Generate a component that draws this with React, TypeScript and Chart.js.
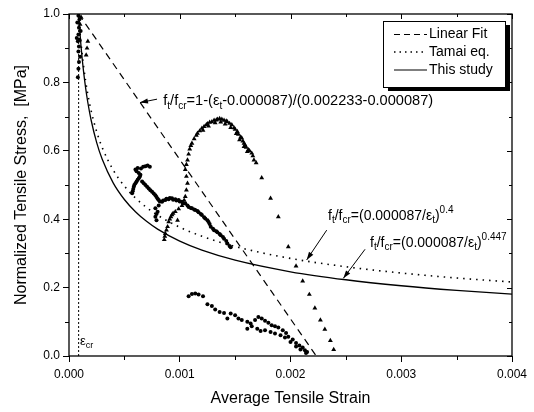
import { useEffect, useRef } from "react";
import { Chart, registerables } from "chart.js";

Chart.register(...registerables);

const FONT = '"Liberation Sans", Arial, Helvetica, sans-serif';

// ---------- measured data (strain, normalized stress) ----------
const peakStrain = [0.000085, 0.000095, 0.000075, 0.00009, 0.000085, 0.00008, 0.00009, 0.000085, 0.0001, 0.00009, 0.000085, 0.00008, 0.000095, 0.000105, 0.00007];
const peakStress = [0.995, 0.985, 0.975, 0.96, 0.94, 0.92, 0.905, 0.89, 0.875, 0.86, 0.84, 0.815, 0.925, 0.95, 0.93];

const peakTriStrain = [0.00017, 0.000163, 0.000155, 0.00011, 0.0001];
const peakTriStress = [0.92, 0.9, 0.88, 0.99, 0.97];

const crossStrain = [
  0.00057, 0.000575, 0.00058, 0.000585, 0.00059, 0.0006, 0.00061, 0.00062, 0.00063, 0.00064, 0.000645, 0.00063, 0.00061, 0.0006, 0.00062, 0.00065, 0.00067, 0.00069, 0.00071, 0.00073,
  0.00066, 0.000675, 0.00069, 0.000705, 0.00072, 0.000735, 0.00075, 0.000765, 0.00078, 0.00079, 0.0008, 0.00081, 0.00082,
  0.00084, 0.00085, 0.00087, 0.00088, 0.0009, 0.00091, 0.00093, 0.00094, 0.00096, 0.00097, 0.00099, 0.001, 0.00102, 0.00103, 0.00105,
  0.00107, 0.00108, 0.0011, 0.00111, 0.00113, 0.00114, 0.00116, 0.00117, 0.00119, 0.0012, 0.00122, 0.00123, 0.00125, 0.00126, 0.00127, 0.00128, 0.0013, 0.00131, 0.00133, 0.00134, 0.00136, 0.00137, 0.00139, 0.0014, 0.00142, 0.00143, 0.00145, 0.00146,
  0.00078, 0.0008, 0.00079, 0.00078, 0.00079, 0.00081
];
const crossStress = [
  0.476, 0.482, 0.488, 0.495, 0.5, 0.505, 0.51, 0.515, 0.52, 0.525, 0.53, 0.535, 0.54, 0.545, 0.55, 0.548, 0.553, 0.555, 0.557, 0.553,
  0.51, 0.505, 0.5, 0.495, 0.49, 0.485, 0.48, 0.475, 0.47, 0.465, 0.46, 0.456, 0.452,
  0.451, 0.455, 0.456, 0.46, 0.458, 0.462, 0.461, 0.457, 0.458, 0.455, 0.456, 0.452, 0.451, 0.447, 0.446,
  0.44, 0.436, 0.433, 0.432, 0.428, 0.427, 0.424, 0.42, 0.415, 0.412, 0.406, 0.402, 0.397, 0.392, 0.386, 0.378, 0.372, 0.368, 0.365, 0.362, 0.357, 0.353, 0.348, 0.343, 0.336, 0.329, 0.322, 0.318,
  0.432, 0.422, 0.415, 0.407, 0.397, 0.44
];

const lowStrain = [
  0.00108, 0.00111, 0.00114, 0.00117, 0.00121, 0.00125, 0.00129, 0.00132, 0.00136, 0.0014, 0.00143, 0.00146, 0.0015, 0.00153, 0.00156, 0.00161, 0.00164, 0.00168, 0.00171, 0.00174, 0.00177, 0.0018, 0.00183, 0.00186, 0.00189, 0.00193, 0.00196, 0.00198, 0.00202, 0.00205, 0.00208, 0.00211, 0.00213, 0.00215,
  0.0017, 0.00173, 0.00177, 0.00182, 0.00186, 0.00191, 0.00195, 0.002, 0.00205, 0.00209, 0.00214, 0.00161, 0.00165
];
const lowStress = [
  0.175, 0.181, 0.183, 0.18, 0.175, 0.151, 0.146, 0.136, 0.129, 0.126, 0.11, 0.124, 0.119, 0.11, 0.105, 0.1, 0.095, 0.105, 0.114, 0.11, 0.103, 0.097, 0.09, 0.087, 0.083, 0.075, 0.067, 0.056, 0.048, 0.038, 0.031, 0.025, 0.017, 0.012,
  0.08, 0.073, 0.075, 0.07, 0.066, 0.061, 0.054, 0.041, 0.028, 0.019, 0.009, 0.08, 0.087
];

const archStrain = [
  0.00086, 0.000865, 0.00087, 0.00088, 0.00089, 0.0009, 0.00091, 0.00092, 0.00093, 0.00094, 0.00096, 0.00098, 0.00099, 0.00102, 0.00104, 0.00105, 0.00106, 0.00107, 0.00106, 0.00105, 0.00106, 0.00107, 0.00108, 0.00109, 0.0011, 0.00111, 0.00113, 0.00115, 0.00116, 0.00118, 0.0012, 0.00122, 0.00124, 0.00125, 0.00127, 0.00129, 0.00131, 0.00133, 0.00134, 0.00136, 0.00138, 0.0014, 0.00142, 0.00143, 0.00145, 0.00147, 0.00149, 0.0015, 0.00152, 0.00153, 0.00155, 0.00156, 0.00157, 0.00158, 0.00159, 0.0016, 0.00162, 0.00163, 0.00165, 0.00166, 0.00167, 0.00169,
  0.00121, 0.00126, 0.00132, 0.00137, 0.00141, 0.00146, 0.00151, 0.00154, 0.00158, 0.00161,
  0.00174, 0.00182, 0.00189, 0.00198, 0.00205, 0.00211, 0.00217, 0.00222, 0.00227, 0.00231, 0.00236, 0.00239
];
const archStress = [
  0.34, 0.35, 0.358, 0.368, 0.378, 0.392, 0.4, 0.407, 0.413, 0.417, 0.422, 0.397, 0.43, 0.44, 0.455, 0.466, 0.485, 0.505, 0.525, 0.545, 0.56, 0.573, 0.59, 0.605, 0.615, 0.622, 0.635, 0.645, 0.651, 0.658, 0.666, 0.671, 0.676, 0.679, 0.683, 0.685, 0.689, 0.69, 0.692, 0.694, 0.692, 0.689, 0.687, 0.685, 0.68, 0.676, 0.667, 0.663, 0.656, 0.648, 0.64, 0.637, 0.628, 0.622, 0.617, 0.61, 0.603, 0.6, 0.593, 0.585, 0.573, 0.565,
  0.66, 0.672, 0.682, 0.684, 0.678, 0.668, 0.65, 0.632, 0.612, 0.598,
  0.521, 0.461, 0.407, 0.319, 0.263, 0.219, 0.18, 0.14, 0.105, 0.078, 0.045, 0.019
];

// fitted curves
const fitStrain = [0.000087, 0.002233];
const fitStress = [1.0, 0.0];

const curveStrain = [0.000087, 0.00009, 0.0001, 0.00011, 0.00012, 0.00013, 0.00015, 0.00017, 0.0002, 0.00025, 0.0003, 0.0004, 0.0005, 0.0006, 0.0007, 0.0008, 0.001, 0.0012, 0.0015, 0.002, 0.0025, 0.003, 0.0035, 0.004];
const tamaiStress = [1.0, 0.9865, 0.9458, 0.9104, 0.8793, 0.8516, 0.8042, 0.7649, 0.7168, 0.6556, 0.6095, 0.5432, 0.4968, 0.4619, 0.4343, 0.4117, 0.3765, 0.3501, 0.3202, 0.2854, 0.261, 0.2426, 0.2281, 0.2163];
const studyStress = [1.0, 0.985, 0.9397, 0.9004, 0.8661, 0.8357, 0.7839, 0.7412, 0.6893, 0.6239, 0.575, 0.5056, 0.4576, 0.4218, 0.3937, 0.3709, 0.3357, 0.3094, 0.2801, 0.2463, 0.2229, 0.2054, 0.1918, 0.1807];

const crStrain = [0.000087, 0.000087];
const crStress = [0.0, 1.0];

// axis ticks
const xMinorTicks = [0.0005, 0.0015, 0.0025, 0.0035];
const xMajorTicks = [0, 0.001, 0.002, 0.003, 0.004];
const yMinorTicks = [0.1, 0.3, 0.5, 0.7, 0.9];
const yMajorTicks = [0, 0.2, 0.4, 0.6, 0.8, 1.0];

const legendLabels = ["Linear Fit", "Tamai eq.", "This study"];

type Seg = { t: string; s?: "sub" | "sup" };

// annotation anchors in data units: [strain, stress]
const linearLabel: Seg[] = [
  { t: "f" }, { t: "t", s: "sub" }, { t: "/f" }, { t: "cr", s: "sub" }, { t: "=1-(ε" }, { t: "t", s: "sub" }, { t: "-0.000087)/(0.002233-0.000087)" },
];
const tamaiLabel: Seg[] = [
  { t: "f" }, { t: "t", s: "sub" }, { t: "/f" }, { t: "cr", s: "sub" }, { t: "=(0.000087/ε" }, { t: "t", s: "sub" }, { t: ")" }, { t: "0.4", s: "sup" },
];
const studyLabel: Seg[] = [
  { t: "f" }, { t: "t", s: "sub" }, { t: "/f" }, { t: "cr", s: "sub" }, { t: "=(0.000087/ε" }, { t: "t", s: "sub" }, { t: ")" }, { t: "0.447", s: "sup" },
];
const annotations = [
  { segs: linearLabel, size: 14.6, at: [0.000851, 0.734], from: [0.000795, 0.751], to: [0.000641, 0.741] },
  { segs: tamaiLabel, size: 14, at: [0.002339, 0.398], from: [0.002327, 0.368], to: [0.002146, 0.281] },
  { segs: studyLabel, size: 14, at: [0.002718, 0.3196], from: [0.002673, 0.312], to: [0.002477, 0.227] },
];
const crLabelAt = [0.0000993, 0.032];

function pts(xs: number[], ys: number[]) {
  return xs.map((x, i) => ({ x, y: ys[i] }));
}

function drawRich(ctx: CanvasRenderingContext2D, segs: Seg[], x: number, y: number, size: number) {
  let cx = x;
  ctx.textBaseline = "alphabetic";
  ctx.textAlign = "left";
  for (const seg of segs) {
    const fs = seg.s ? Math.round(size * 0.7) : size;
    ctx.font = `${fs}px ${FONT}`;
    const dy = seg.s === "sub" ? size * 0.25 : seg.s === "sup" ? -size * 0.5 : 0;
    ctx.fillText(seg.t, cx, y + dy);
    cx += ctx.measureText(seg.t).width;
  }
}

function arrow(ctx: CanvasRenderingContext2D, x1: number, y1: number, x2: number, y2: number) {
  ctx.beginPath();
  ctx.moveTo(x1, y1);
  ctx.lineTo(x2, y2);
  ctx.lineWidth = 1;
  ctx.strokeStyle = "#000";
  ctx.stroke();
  const a = Math.atan2(y2 - y1, x2 - x1);
  const L = 8, W = 2.6;
  ctx.beginPath();
  ctx.moveTo(x2, y2);
  ctx.lineTo(x2 - L * Math.cos(a) + W * Math.sin(a), y2 - L * Math.sin(a) - W * Math.cos(a));
  ctx.lineTo(x2 - L * Math.cos(a) - W * Math.sin(a), y2 - L * Math.sin(a) + W * Math.cos(a));
  ctx.closePath();
  ctx.fillStyle = "#000";
  ctx.fill();
}

const decorPlugin = {
  id: "decor",
  afterDatasetsDraw(chart: any) {
    const { ctx, chartArea: ca, scales } = chart;
    const xs = scales.x, ys = scales.y;
    ctx.save();
    // frame
    ctx.strokeStyle = "#000";
    ctx.lineWidth = 1.3;
    ctx.strokeRect(ca.left, ca.top, ca.right - ca.left, ca.bottom - ca.top);
    ctx.lineWidth = 1;
    ctx.beginPath();
    for (const v of xMinorTicks) {
      const px = Math.round(xs.getPixelForValue(v)) + 0.5;
      ctx.moveTo(px, ca.bottom); ctx.lineTo(px, ca.bottom + 4);
      ctx.moveTo(px, ca.top); ctx.lineTo(px, ca.top + 3);
    }
    for (const v of xMajorTicks) {
      const px = Math.round(xs.getPixelForValue(v)) + 0.5;
      ctx.moveTo(px, ca.top); ctx.lineTo(px, ca.top + 5);
    }
    for (const v of yMinorTicks) {
      const py = Math.round(ys.getPixelForValue(v)) + 0.5;
      ctx.moveTo(ca.left, py); ctx.lineTo(ca.left - 4, py);
      ctx.moveTo(ca.right, py); ctx.lineTo(ca.right - 3, py);
    }
    for (const v of yMajorTicks) {
      const py = Math.round(ys.getPixelForValue(v)) + 0.5;
      ctx.moveTo(ca.right, py); ctx.lineTo(ca.right - 5, py);
    }
    ctx.stroke();

    // annotations
    ctx.fillStyle = "#000";
    for (const a of annotations) {
      drawRich(ctx, a.segs, xs.getPixelForValue(a.at[0]), ys.getPixelForValue(a.at[1]), a.size);
      arrow(ctx, xs.getPixelForValue(a.from[0]), ys.getPixelForValue(a.from[1]), xs.getPixelForValue(a.to[0]), ys.getPixelForValue(a.to[1]));
    }
    drawRich(ctx, [{ t: "ε" }, { t: "cr", s: "sub" }], xs.getPixelForValue(crLabelAt[0]), ys.getPixelForValue(crLabelAt[1]), 13);

    // legend box with drop shadow
    const bw = 122, bh = 66;
    const bx = ca.right - 7 - bw, by = ca.top + 7;
    ctx.fillStyle = "#000";
    ctx.fillRect(bx + 5, by + 4, bw, bh);
    ctx.fillStyle = "#fff";
    ctx.fillRect(bx, by, bw, bh);
    ctx.strokeStyle = "#000";
    ctx.lineWidth = 1;
    ctx.strokeRect(bx + 0.5, by + 0.5, bw, bh);
    const dashes = [[6, 4], [1.5, 4], []];
    const rows = [13.5, 31, 49];
    legendLabels.forEach((lab, i) => {
      const yy = by + rows[i];
      ctx.beginPath();
      ctx.setLineDash(dashes[i]);
      ctx.lineWidth = i === 1 ? 1.5 : 1.2;
      ctx.moveTo(bx + 11, yy);
      ctx.lineTo(bx + 44, yy);
      ctx.stroke();
      ctx.setLineDash([]);
      ctx.fillStyle = "#000";
      ctx.font = `14px ${FONT}`;
      ctx.textBaseline = "middle";
      ctx.textAlign = "left";
      ctx.fillText(lab, bx + 46, yy);
    });
    ctx.restore();
  },
};

export default function App() {
  const ref = useRef<HTMLCanvasElement | null>(null);
  useEffect(() => {
    document.body.style.margin = "0";
    const canvas = ref.current;
    if (!canvas) return;
    const chart = new Chart(canvas, {
      type: "scatter",
      data: {
        datasets: [
          { label: "Linear Fit", data: pts(fitStrain, fitStress), showLine: true, borderColor: "#000", borderWidth: 1.2, borderDash: [7, 5], pointRadius: 0 },
          { label: "Tamai eq.", data: pts(curveStrain, tamaiStress), showLine: true, borderColor: "#000", borderWidth: 1.6, borderDash: [1.5, 5], pointRadius: 0, cubicInterpolationMode: "monotone" },
          { label: "This study", data: pts(curveStrain, studyStress), showLine: true, borderColor: "#000", borderWidth: 1.3, pointRadius: 0, cubicInterpolationMode: "monotone" },
          { label: "cr", data: pts(crStrain, crStress), showLine: true, borderColor: "#000", borderWidth: 1, borderDash: [2, 2], pointRadius: 0 },
          { label: "peak", data: pts(peakStrain, peakStress), pointStyle: "circle", pointRadius: 2, backgroundColor: "#000", borderWidth: 0 },
          { label: "peakTri", data: pts(peakTriStrain, peakTriStress), pointStyle: "triangle", pointRadius: 2.8, backgroundColor: "#000", borderWidth: 0 },
          { label: "cross", data: pts(crossStrain, crossStress), pointStyle: "circle", pointRadius: 2, backgroundColor: "#000", borderWidth: 0 },
          { label: "low", data: pts(lowStrain, lowStress), pointStyle: "circle", pointRadius: 2, backgroundColor: "#000", borderWidth: 0 },
          { label: "arch", data: pts(archStrain, archStress), pointStyle: "triangle", pointRadius: 2.8, backgroundColor: "#000", borderWidth: 0 },
        ],
      },
      options: {
        responsive: false,
        animation: false,
        layout: { padding: { top: 14, right: 22, bottom: 0, left: 0 } },
        plugins: { legend: { display: false }, tooltip: { enabled: false } },
        scales: {
          x: {
            type: "linear",
            min: 0,
            max: 0.004,
            afterFit: (s: any) => { s.height = 56; },
            ticks: {
              stepSize: 0.001,
              color: "#000",
              padding: 5,
              maxRotation: 0,
              font: { family: FONT, size: 12 },
              callback: (v: any) => Number(v).toFixed(3),
            },
            grid: { display: true, drawOnChartArea: false, drawTicks: true, tickLength: 6, color: "#000", lineWidth: 1 },
            border: { display: false },
            title: { display: true, text: "Average Tensile Strain", color: "#000", font: { family: FONT, size: 16 }, padding: { top: 0, bottom: 4 } },
          },
          y: {
            type: "linear",
            min: 0,
            max: 1,
            afterFit: (s: any) => { s.width = 69; },
            ticks: {
              stepSize: 0.2,
              color: "#000",
              padding: 3,
              font: { family: FONT, size: 12 },
              callback: (v: any) => Number(v).toFixed(1),
            },
            grid: { display: true, drawOnChartArea: false, drawTicks: true, tickLength: 6, color: "#000", lineWidth: 1 },
            border: { display: false },
            title: { display: true, text: "Normalized Tensile Stress,  [MPa]", color: "#000", font: { family: FONT, size: 16 }, padding: { top: 12, bottom: 0 } },
          },
        },
      },
      plugins: [decorPlugin],
    } as any);
    return () => chart.destroy();
  }, []);
  return (
    <canvas
      ref={ref}
      width={534}
      height={412}
      style={{ position: "fixed", left: 0, top: 0, width: 534, height: 412, display: "block", background: "#fff" }}
    />
  );
}
